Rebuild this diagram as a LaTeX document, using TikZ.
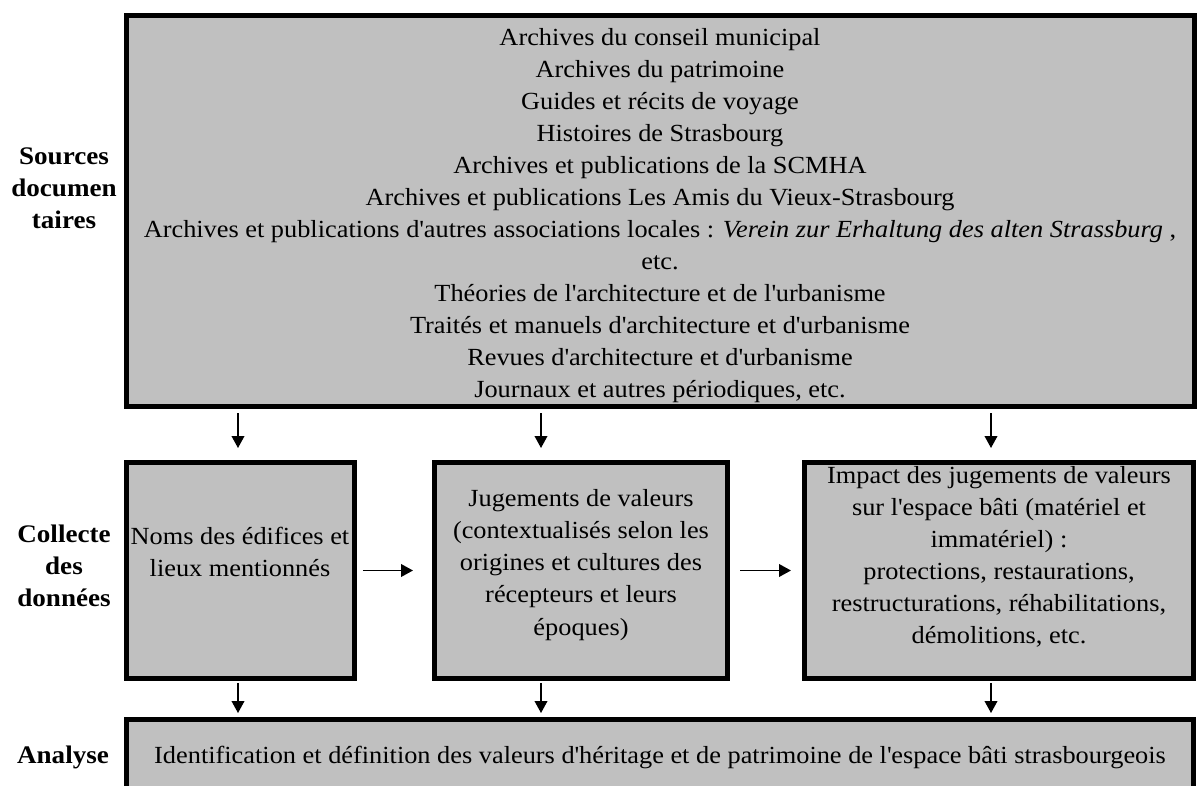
\documentclass[tikz,border=0pt]{standalone}
\usepackage{fontspec}
\setmainfont{Liberation Serif}[FakeStretch=1.07]
\usepackage{tikz}
\usetikzlibrary{arrows.meta,positioning}
\definecolor{boxgray}{RGB}{192,192,192}
\newcommand{\apo}{\textquotesingle}
\tikzset{
  framebox/.style={
    draw,
    fill=boxgray,
    line width=3.5pt,
    inner sep=0pt
  },
  boxtext/.style={
    align=center,
    font=\fontsize{17.5}{22.8}\selectfont
  },
  steplabel/.style={
    align=center,
    font=\fontsize{18}{22.8}\selectfont\bfseries
  },
  flowarrow/.style={-{Triangle[length=8.5pt,width=9pt]}, line width=1.1pt}
}

\begin{document}
\begin{tikzpicture}[x=0.025cm,y=-0.025cm]
  \clip (0,0) rectangle (1198,786);

  % cadres
  \node[framebox, minimum width=26.7cm, minimum height=9.775cm] (sources) at (660.5,211) {};
  \node[framebox, minimum width=5.7cm, minimum height=5.4cm] (noms) at (240.5,570.5) {};
  \node[framebox, minimum width=7.325cm, minimum height=5.4cm] (jugements) at (581,570.5) {};
  \node[framebox, minimum width=9.725cm, minimum height=5.4cm] (impact) at (999,570.5) {};
  \node[framebox, minimum width=26.675cm, minimum height=2.25cm] (analyse) at (660,764.5) {};

  % textes
  \node[boxtext] (sourcestext) at (660,215.5) {Archives du conseil municipal\\
    Archives du patrimoine\\
    Guides et récits de voyage\\
    Histoires de Strasbourg\\
    Archives et publications de la SCMHA\\
    Archives et publications Les Amis du Vieux-Strasbourg\\
    Archives et publications d\apo autres associations locales : \textit{Verein zur Erhaltung des alten Strassburg} ,\\
    etc.\\
    Théories de l\apo architecture et de l\apo urbanisme\\
    Traités et manuels d\apo architecture et d\apo urbanisme\\
    Revues d\apo architecture et d\apo urbanisme\\
    Journaux et autres périodiques, etc.};
  \node[boxtext] (nomstext) at (240,552) {Noms des édifices et\\lieux mentionnés};
  \node[boxtext] (jugementstext) at (581,565) {Jugements de valeurs\\(contextualisés selon les\\origines et cultures des\\récepteurs et leurs\\époques)};
  \node[boxtext] (impacttext) at (999,557) {Impact des jugements de valeurs\\sur l\apo espace bâti (matériel et\\immatériel) :\\protections, restaurations,\\restructurations, réhabilitations,\\démolitions, etc.};
  \node[boxtext] (analysetext) at (660,757) {Identification et définition des valeurs d\apo héritage et de patrimoine de l\apo espace bâti strasbourgeois};

  % étapes
  \node[steplabel] (lsources) at (64,188) {Sources\\documen\\taires};
  \node[steplabel] (lcollecte) at (64,566) {Collecte\\des\\données};
  \node[steplabel] (lanalyse) at (63,757) {Analyse};

  % flèches
  \coordinate (col1) at (238,0);
  \coordinate (col2) at (541,0);
  \coordinate (col3) at (991,0);
  \draw[flowarrow, shorten <=0.1cm, shorten >=0.3cm] (sources.south -| col1) -- (noms.north -| col1);
  \draw[flowarrow, shorten <=0.1cm, shorten >=0.3cm] (sources.south -| col2) -- (jugements.north -| col2);
  \draw[flowarrow, shorten <=0.1cm, shorten >=0.3cm] (sources.south -| col3) -- (impact.north -| col3);
  \draw[flowarrow, shorten <=0.15cm, shorten >=0.475cm] (noms.east) -- (jugements.west);
  \draw[flowarrow, shorten <=0.25cm, shorten >=0.275cm] (jugements.east) -- (impact.west);
  \draw[flowarrow, shorten <=0.05cm, shorten >=0.1cm] (noms.south -| col1) -- (analyse.north -| col1);
  \draw[flowarrow, shorten <=0.05cm, shorten >=0.1cm] (jugements.south -| col2) -- (analyse.north -| col2);
  \draw[flowarrow, shorten <=0.05cm, shorten >=0.1cm] (impact.south -| col3) -- (analyse.north -| col3);
\end{tikzpicture}
\end{document}
